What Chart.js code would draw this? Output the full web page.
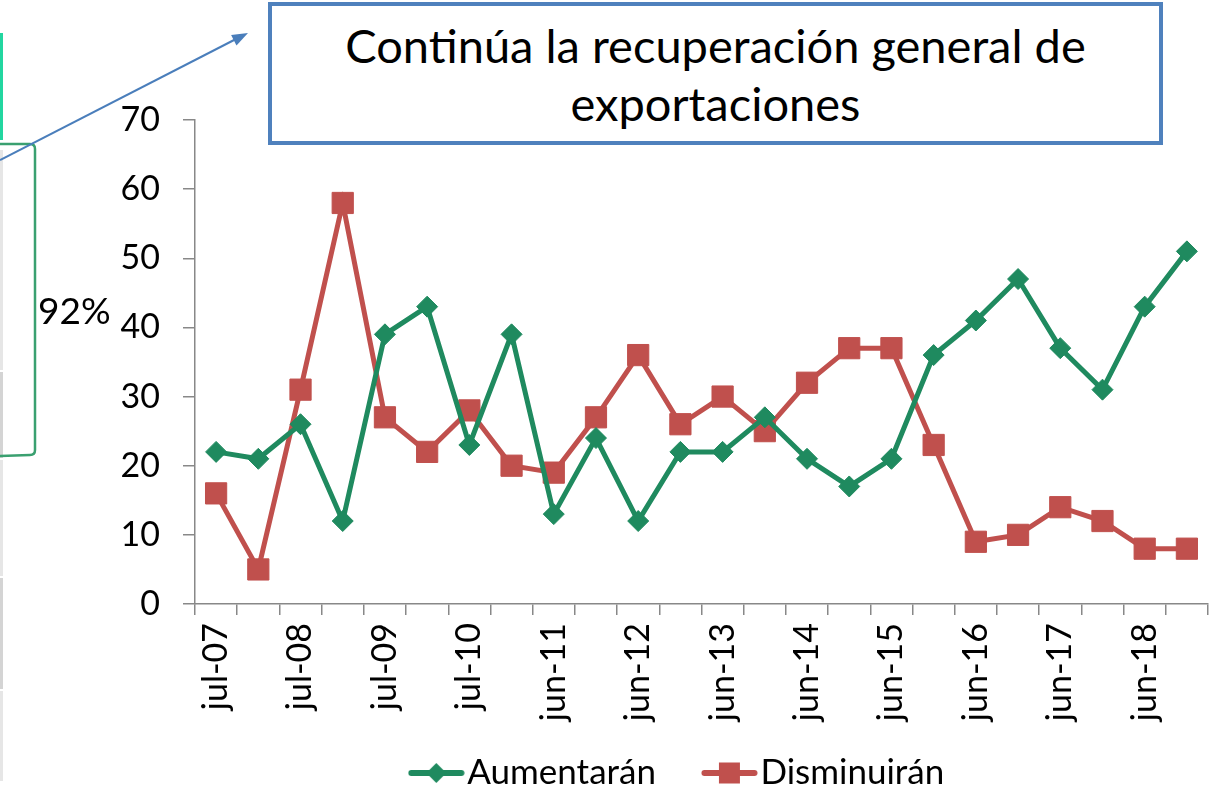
<!DOCTYPE html>
<html><head><meta charset="utf-8">
<script src="https://cdn.jsdelivr.net/npm/chart.js@4.4.1/dist/chart.umd.min.js"></script>
<style>
html,body{margin:0;padding:0;background:#fff;overflow:hidden;width:1211px;height:788px;}
#wrap{position:relative;width:1211px;height:788px;overflow:hidden;}
#c{position:absolute;left:0;top:0;}
#deco{position:absolute;left:0;top:0;}
#title{position:absolute;left:268px;top:2px;width:887px;height:135px;border:4px solid #4f81bd;background:#fff;font-family:Lato,'Liberation Sans',sans-serif;font-size:47px;line-height:58px;text-align:center;color:#000;display:flex;align-items:center;justify-content:center;}
#pct{position:absolute;left:38px;top:290px;font-family:Lato,'Liberation Sans',sans-serif;font-size:37px;color:#000;line-height:40px;}
</style></head>
<body>
<div id="wrap">
<canvas id="c" width="1211" height="788"></canvas>
<svg id="deco" width="1211" height="788">
  <rect x="0" y="150" width="3" height="220" fill="#e6e6e6"/>
  <rect x="0" y="372" width="3" height="86" fill="#d4d4d4"/>
  <rect x="0" y="460" width="3" height="116" fill="#e6e6e6"/>
  <rect x="0" y="578" width="3" height="111" fill="#d4d4d4"/>
  <rect x="0" y="691" width="3" height="90" fill="#e6e6e6"/>
  <line x1="1.5" y1="33" x2="1.5" y2="140" stroke="#22d6a0" stroke-width="3"/>
  <path d="M0 144 L30 144 Q35 144 35 149 L35 450 Q35 455 30 455 L0 456" stroke="#3aa070" stroke-width="2.5" fill="none"/>
  <line x1="0" y1="160" x2="236" y2="39" stroke="#4a7ebb" stroke-width="2"/>
  <polygon points="248,33 236.5,45.6 231.1,35.0" fill="#4a7ebb"/>
</svg>
<div id="title">Continúa la recuperación general de<br>exportaciones</div>
<div id="pct">92%</div>
</div>
<script>
const categories = ['jul-07','ene-08','jul-08','ene-09','jul-09','ene-10','jul-10','ene-11','jun-11','dic-11','jun-12','dic-12','jun-13','dic-13','jun-14','dic-14','jun-15','dic-15','jun-16','dic-16','jun-17','dic-17','jun-18','dic-18'];
const aumentaran = [22,21,26,12,39,43,23,39,13,24,12,22,22,27,21,17,21,36,41,47,37,31,43,51];
const disminuiran = [16,5,31,58,27,22,28,20,19,27,36,26,30,25,32,37,37,23,9,10,14,12,8,8];
const yTicks = [0,10,20,30,40,50,60,70];
const seriesNames = ['Aumentarán','Disminuirán'];

const GREEN = '#1f8a5f';
const RED = '#c0504d';
const AX = '#888888';
const FONT = "Lato, 'Liberation Sans', sans-serif";

function makeIcon(color, shape){
  const cv = document.createElement('canvas');
  cv.width = 57; cv.height = 24;
  const g = cv.getContext('2d');
  g.strokeStyle = color; g.lineWidth = 6; g.lineCap = 'round';
  g.beginPath(); g.moveTo(3.5,12); g.lineTo(53.5,12); g.stroke();
  g.fillStyle = color;
  if (shape === 'diamond'){
    g.beginPath(); g.moveTo(28.5,2); g.lineTo(38.5,12); g.lineTo(28.5,22); g.lineTo(18.5,12); g.closePath(); g.fill();
  } else {
    g.fillRect(18,1.5,21,21);
  }
  return cv;
}
const icons = [makeIcon(GREEN,'diamond'), makeIcon(RED,'square')];

// moves the legend box to its place under the plot and lets it reach the bottom edge
const legendShift = {
  id: 'legendShift',
  afterLayout(chart){
    const l = chart.legend;
    if (!l) return;
    const dx = 24.5, dy = -47.5;
    l.left += dx; l.right += dx; l.top += dy;
    l.bottom = chart.height;
    l.height = l.bottom - l.top;
  }
};

new Chart(document.getElementById('c').getContext('2d'), {
  type: 'line',
  data: {
    labels: categories,
    datasets: [
      {label: seriesNames[0], data: aumentaran, borderColor: GREEN, backgroundColor: GREEN, borderWidth: 5,
       pointStyle: 'rectRot', pointRadius: 10.5, pointBorderWidth: 1, pointBackgroundColor: GREEN, pointBorderColor: GREEN, tension: 0},
      {label: seriesNames[1], data: disminuiran, borderColor: RED, backgroundColor: RED, borderWidth: 5,
       pointStyle: 'rect', pointRadius: 15, pointBorderWidth: 1, pointBackgroundColor: RED, pointBorderColor: RED, tension: 0}
    ]
  },
  plugins: [legendShift],
  options: {
    responsive: false, animation: false, devicePixelRatio: 1,
    layout: {autoPadding: false, padding: {left: 110, top: 120, right: 3, bottom: 0}},
    plugins: {
      tooltip: {enabled: false},
      legend: {
        position: 'bottom',
        maxHeight: 45,
        labels: {
          usePointStyle: true, pointStyleWidth: 27, padding: 60, color: '#000',
          font: {family: FONT, size: 35},
          generateLabels(chart){
            const items = Chart.defaults.plugins.legend.labels.generateLabels(chart);
            items.forEach((it,i)=>{ it.pointStyle = icons[i]; it.rotation = 0; });
            return items;
          }
        }
      }
    },
    scales: {
      x: {
        offset: true,
        grid: {display: true, drawOnChartArea: false, offset: true, tickLength: 11, color: AX, lineWidth: 1.5},
        border: {color: AX, width: 1.5},
        ticks: {autoSkip: false, maxRotation: 90, minRotation: 90, padding: 8, color: '#000',
                font: {family: FONT, size: 34},
                callback: (v, i) => (i % 2 === 0 ? categories[i] : '')},
        afterFit(s){ s.height = 139; s.paddingLeft = 0; s.paddingRight = 0; }
      },
      y: {
        min: 0, max: 70,
        afterBuildTicks(s){ s.ticks = yTicks.map(v => ({value: v})); },
        grid: {drawOnChartArea: false, tickLength: 12, color: AX, lineWidth: 1.5},
        border: {color: AX, width: 1.5},
        ticks: {padding: 23, color: '#000', font: {family: FONT, size: 34}},
        afterFit(s){ s.width = 85; }
      }
    }
  }
});
</script>
</body></html>
